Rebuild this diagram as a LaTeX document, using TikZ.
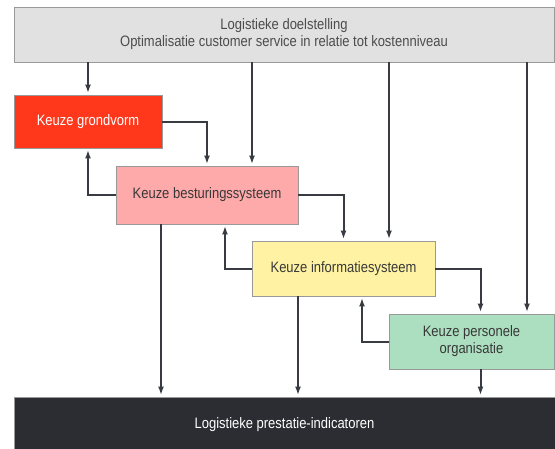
\documentclass[tikz,border=0pt]{standalone}
\usepackage{fontspec}
\setmainfont{Liberation Sans}[FakeStretch=0.86]
\usetikzlibrary{arrows.meta,calc}
\definecolor{doelgrijs}{HTML}{E1E1E1}
\definecolor{grondrood}{HTML}{FF381C}
\definecolor{besturroze}{HTML}{FFAAAA}
\definecolor{infogeel}{HTML}{FFF3A3}
\definecolor{persgroen}{HTML}{ACDFC0}
\definecolor{indzwart}{HTML}{2B2D33}
\definecolor{lijn}{HTML}{383B42}

\begin{document}
\begin{tikzpicture}[x=1pt,y=-1pt,line width=2pt,
          every node/.style={inner sep=2pt,font=\fontsize{15.1}{17}\selectfont},
          keuze/.style={draw=gray!80,line width=0.9pt,text=black!78,align=center},
          >={Latex[length=8.5pt,width=6pt]},shorten >=1.5pt]
          \useasboundingbox(0,0)rectangle(555,448);
          \clip(0,0)rectangle(555,448);
          % boxes
          \node[keuze,fill=doelgrijs,minimum width=540pt,minimum height=55pt,text=black!70]
             (doel) at (284,34.5) {Logistieke doelstelling\\Optimalisatie customer service in relatie tot kostenniveau};
          \node[keuze,fill=grondrood,text=white,minimum width=148pt,minimum height=53pt]
             (grond) at (88,121.5) {Keuze grondvorm};
          \node[keuze,fill=besturroze,minimum width=182pt,minimum height=58pt]
             (bestu) at (207,195) {Keuze besturingssysteem};
          \node[keuze,fill=infogeel,minimum width=183pt,minimum height=55pt]
             (info) at (343.5,268.5) {Keuze informatiesysteem};
          \node[keuze,fill=persgroen,minimum width=165pt,minimum height=55pt]
             (pers) at (471.5,341.5) {Keuze personele\\organisatie};
          \node[keuze,fill=indzwart,text=white,minimum width=541pt,minimum height=56pt]
             (ind) at (284.5,425) {Logistieke prestatie-indicatoren};
          % doelstelling naar beneden
          \begin{scope}[draw=lijn]
          \draw[->](doel.south -| grond.north)--(grond.north);
          \draw[->]([xshift=45pt]bestu.north |- doel.south)--([xshift=45pt]bestu.north);
          \draw[->]([xshift=45.5pt]info.north |- doel.south)--([xshift=45.5pt]info.north);
          \draw[->]([xshift=55.5pt]pers.north |- doel.south)--([xshift=55.5pt]pers.north);
          % terugkoppeling tussen keuzes
          \draw[->](grond.east)-|(bestu.north);
          \draw[->](bestu.west)-|(grond.south);
          \draw[->](bestu.east)-|(info.north);
          \draw[->](info.west)-|([xshift=18pt]bestu.south);
          \draw[->](info.east)-|([xshift=9pt]pers.north);
          \draw[->](pers.west)-|([xshift=18.5pt]info.south);
          % naar prestatie-indicatoren
          \draw[->]([xshift=-46pt]bestu.south)--([xshift=-46pt]bestu.south |- ind.north);
          \draw[->]([xshift=-45.5pt]info.south)--([xshift=-45.5pt]info.south |- ind.north);
          \draw[->]([xshift=9pt]pers.south)--([xshift=9pt]pers.south |- ind.north);
          \end{scope}
        \end{tikzpicture}
\end{document}
